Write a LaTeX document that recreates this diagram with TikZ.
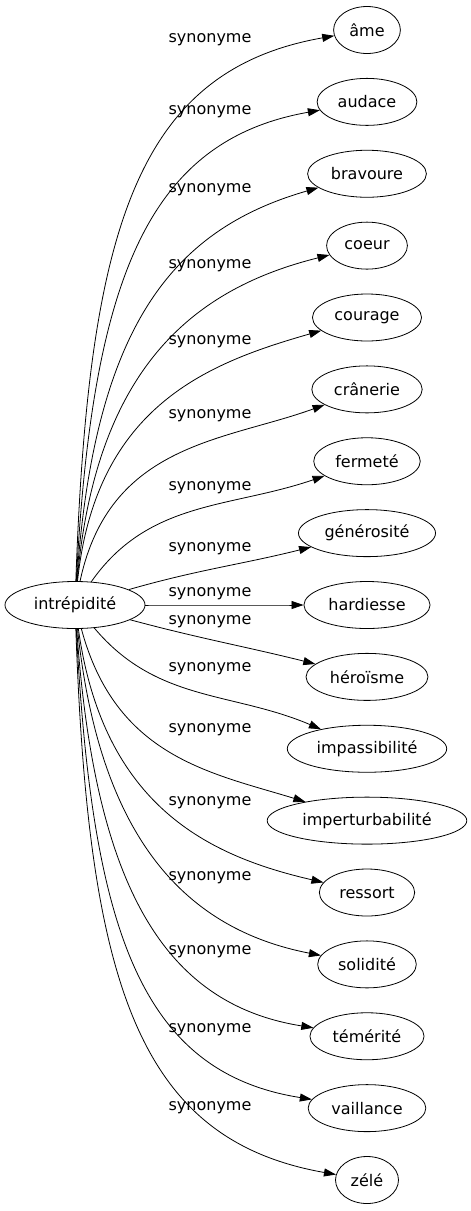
\documentclass[tikz,border=0pt]{standalone}
\usepackage{fontspec}
\setmainfont{DejaVu Sans}
\usepackage{tikz}
\usetikzlibrary{arrows.meta,shapes.geometric}
\tikzset{
  mot/.style={draw, ellipse, line width=0.8pt, inner xsep=6pt, inner ysep=2pt, minimum height=47pt, font=\fontsize{16}{18}\selectfont},
  lien/.style={line width=0.8pt, -{Triangle[length=12pt,width=8pt]}},
  etiq/.style={inner sep=0pt, font=\fontsize{16}{18}\selectfont}
}

\begin{document}
\begin{tikzpicture}[x=1pt,y=1pt]
        \useasboundingbox (0,0) rectangle (471,-1211);
        %Centre
        \node[mot, minimum width=140pt] (intrepidite) at (75,-605) {intrépidité};
        %Synonymes
        \foreach \nom/\txt/\ly/\o/\i/\ol/\il [count=\k from 0] in {
            ame/âme/40/88/190/1.5/0.85,
            audace/audace/112/87/190/1.45/0.85,
            bravoure/bravoure/190/86/196/1.4/0.85,
            coeur/coeur/266/85/194/1.35/0.85,
            courage/courage/342/84/196/1.3/0.85,
            cranerie/crânerie/416/78/200/1.2/0.9,
            fermete/fermeté/488/55/199/1/1,
            generosite/générosité/549/16/194/1/1,
            hardiesse/hardiesse/594/0/180/1/1,
            heroisme/héroïsme/622/-15/166/1/1,
            impassibilite/impassibilité/669/-50/157/1/1,
            imperturbabilite/imperturbabilité/730/-75/163/1.2/0.9,
            ressort/ressort/803/-82/167/1.3/0.85,
            solidite/solidité/878/-84/169/1.35/0.85,
            temerite/témérité/952/-86/171/1.4/0.85,
            vaillance/vaillance/1030/-87/171/1.45/0.85,
            zele/zélé/1108/-88/170/1.5/0.85} {
            \node[mot] (\nom) at (367,{-30-71.875*\k}) {\txt};
            \draw[lien] (intrepidite) to[out=\o, in=\i, out looseness=\ol, in looseness=\il] (\nom);
            \node[etiq] (l\nom) at (210,-\ly) {synonyme};
        }
\end{tikzpicture}
\end{document}
